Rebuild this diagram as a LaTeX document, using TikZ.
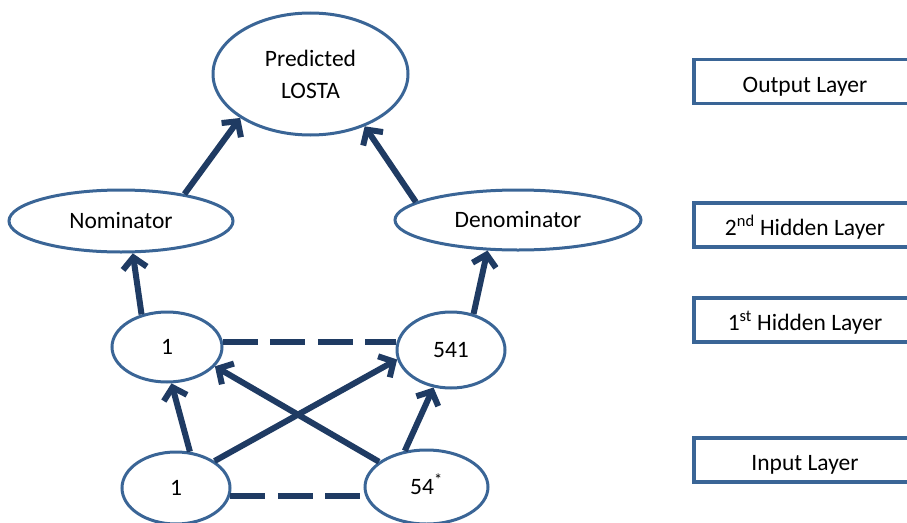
\documentclass[tikz,border=0pt]{standalone}
\usepackage{fontspec}
\setmainfont{Carlito}
\usetikzlibrary{shapes.geometric, arrows.meta}
\definecolor{edgeblue}{HTML}{3A6596}
\definecolor{arrowblue}{HTML}{1F3B63}

\begin{document}
\begin{tikzpicture}[x=1pt, y=-1pt,
    font=\fontsize{23.5}{32}\selectfont,
    unit/.style={shape=ellipse, draw=edgeblue, line width=3pt, inner sep=0pt,
        text height=19pt, text depth=4pt},
    layer/.style={draw=edgeblue, line width=3.5pt, minimum width=222pt,
        minimum height=44pt, inner sep=0pt, text height=25pt, text depth=4pt},
    link/.style={draw=arrowblue, line width=6pt,
        -{Straight Barb[length=11pt, width=24pt]}},
    same/.style={draw=arrowblue, line width=6pt, dash pattern=on 35pt off 12.5pt}]
    \useasboundingbox (0, 0) rectangle (907, 522);
    \clip (0, 0) rectangle (907, 522);

    \node [unit, minimum width=195pt, minimum height=122pt, align=center,
        text height=, text depth=] (pred) at (310.5, 74) {Predicted\\LOSTA};
    \node [unit, minimum width=224pt, minimum height=62pt] (nom) at (121, 221) {Nominator};
    \node [unit, minimum width=246pt, minimum height=60pt] (den) at (518, 220) {Denominator};
    \node [unit, minimum width=110pt, minimum height=70pt] (h1)   at (167, 347) {1};
    \node [unit, minimum width=108pt, minimum height=76pt] (h541) at (451, 350) {541};
    \node [unit, minimum width=108pt, minimum height=72pt] (in1)  at (176, 488) {1};
    \node [unit, minimum width=123pt, minimum height=74pt] (in54) at (426.5, 487) {54\textsuperscript{*}};

    \node [layer] (lout) at (805, 81.5) {Output Layer};
    \node [layer] (lh2)  at (805, 225)  {2\textsuperscript{nd} Hidden Layer};
    \node [layer] (lh1)  at (805, 320)  {1\textsuperscript{st} Hidden Layer};
    \node [layer] (lin)  at (805, 460)  {Input Layer};

    \draw [link] (nom.23) -- (pred.212);
    \draw [link] (den.170) -- (pred.316);
    \draw [link] (h1.128) -- (nom.290);
    \draw [link] (h541.58) -- (den.225);
    \draw [link] (in1.69) -- (h1.277);
    \draw [link] (in1.35) -- (h541.190);
    \draw [link] (in54.152) -- (h1.338);
    \draw [link] (in54.121) -- (h541.245);

    \draw [same] (h1.5) -- (h1.5 -| h541.west);
    \draw [same] (in1.-8) -- (in1.-8 -| in54.west);
\end{tikzpicture}
\end{document}
